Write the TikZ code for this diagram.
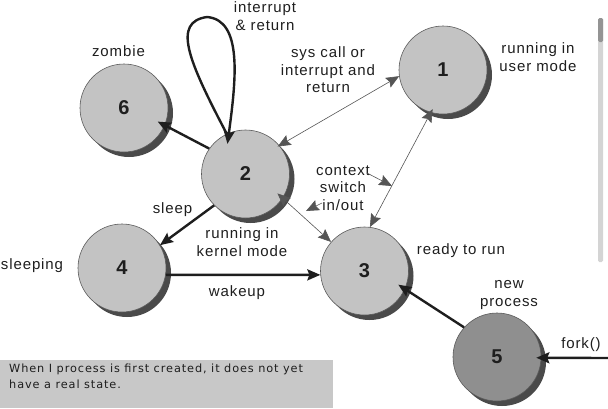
\documentclass[tikz,border=0pt]{standalone}
\usepackage{fontspec}
\setmainfont{Liberation Sans}
\newfontfamily\notefont{DejaVu Sans}
\usetikzlibrary{arrows.meta,shadows,calc}
\definecolor{statefill}{HTML}{C3C3C3}
\definecolor{newfill}{HTML}{8F8F8F}
\definecolor{shadowc}{HTML}{4A4A4A}
\definecolor{edgec}{HTML}{5A5A5A}
\definecolor{inkc}{HTML}{1E1E1E}
\definecolor{thinc}{HTML}{555555}
\definecolor{notefill}{HTML}{C8C8C8}
\tikzset{
  state/.style={circle, minimum size=88pt, inner sep=0pt, draw=edgec, line width=0.6pt,
    fill=statefill, text=inkc,
    font=\fontsize{20}{24}\selectfont\bfseries,
    general shadow={fill=shadowc, shadow xshift=5pt, shadow yshift=-5pt}},
  newstate/.style={state, fill=newfill},
  lbl/.style={font=\fontsize{15}{17.5}\selectfont\addfontfeatures{LetterSpace=6}, align=center,
    inner sep=0pt, text=inkc},
  tip/.style={-{Stealth[length=13pt,width=11pt,inset=2pt]}},
  bitip/.style={{Stealth[length=13pt,width=11pt,inset=2pt]}-{Stealth[length=13pt,width=11pt,inset=2pt]}},
  thickarrow/.style={tip, draw=inkc, line width=2.4pt},
  thinarrow/.style={bitip, draw=thinc, line width=0.6pt},
  pointer/.style={tip, draw=thinc, line width=0.6pt},
}
\begin{document}
\begin{tikzpicture}[x=1pt,y=-1pt]
\useasboundingbox (0,0) rectangle (608,408);
% scrollbar
\fill[fill=black!17, rounded corners=1.5pt] (598,18) rectangle (603,262);
\fill[fill=black!42, rounded corners=1.5pt] (598,18) rectangle (603,42);
% note box
\fill[notefill] (0,360) rectangle (333,408);
\node[anchor=north west, align=left, inner sep=0pt, text=inkc,
  font=\notefont\fontsize{11.3}{16}\selectfont\addfontfeatures{LetterSpace=8}] (note) at (9,364)
  {When I process is first created, it does not yet\\have a real state.};
% states
\node[state] (n1) at (443,70) {1};
\node[state] (n2) at (245.5,174) {2};
\node[state] (n3) at (364.5,271) {3};
\node[state] (n4) at (122,268) {4};
\node[newstate] (n5) at (497,357) {5};
\node[state] (n6) at (124,108) {6};
% labels
\node[lbl] (lloop) at (265,16) {interrupt\\\& return};
\node[lbl] (lsys) at (328,70) {sys call or\\interrupt and\\return};
\node[lbl] (luser) at (538,57) {running in\\user mode};
\node[lbl] (lzombie) at (118.5,51) {zombie};
\node[lbl] (lctx) at (343,188) {context\\switch\\in/out};
\node[lbl] (lsleep) at (172.5,210) {sleep};
\node[lbl] (lkernel) at (242,242) {running in\\kernel mode};
\node[lbl] (lsleeping) at (32,266) {sleeping};
\node[lbl] (lready) at (461,251) {ready to run};
\node[lbl] (lwake) at (237,293) {wakeup};
\node[lbl] (lnew) at (509,295) {new\\process};
\node[lbl] (lfork) at (581,345) {fork()};
% coordinates
\coordinate (forkin) at (608,358);
\coordinate (ctxA) at (367,173);
\coordinate (ctxAt) at (392,186);
\coordinate (ctxB) at (322,203);
\coordinate (ctxBt) at (306,211);
% connectors
\draw[thickarrow, shorten >=-8pt] (n2.145) -- (n6.-23);
\draw[thickarrow, shorten >=-11pt] (n2.115) .. controls (188,60) and (172,22) .. (207,17)
  .. controls (243,20) and (236,80) .. (n2.112);
\draw[thinarrow, shorten <=-2pt] (n2.40) -- (n1.188);
\draw[thinarrow, shorten <=-4pt] (n1.254) -- (n3.83);
\draw[thinarrow, shorten <=-7pt] (n2.-33) -- (n3.139);
\draw[thickarrow] (n2.225) -- (n4.31);
\draw[thickarrow] (n4.-9) -- (n3.185);
\draw[thickarrow, shorten >=-8pt] (n5.138) -- (n3.-24);
\draw[thickarrow, shorten >=-5pt] (forkin) -- (n5.-1);
\draw[pointer] (ctxA) -- (ctxAt);
\draw[pointer] (ctxB) -- (ctxBt);
\end{tikzpicture}
\end{document}
